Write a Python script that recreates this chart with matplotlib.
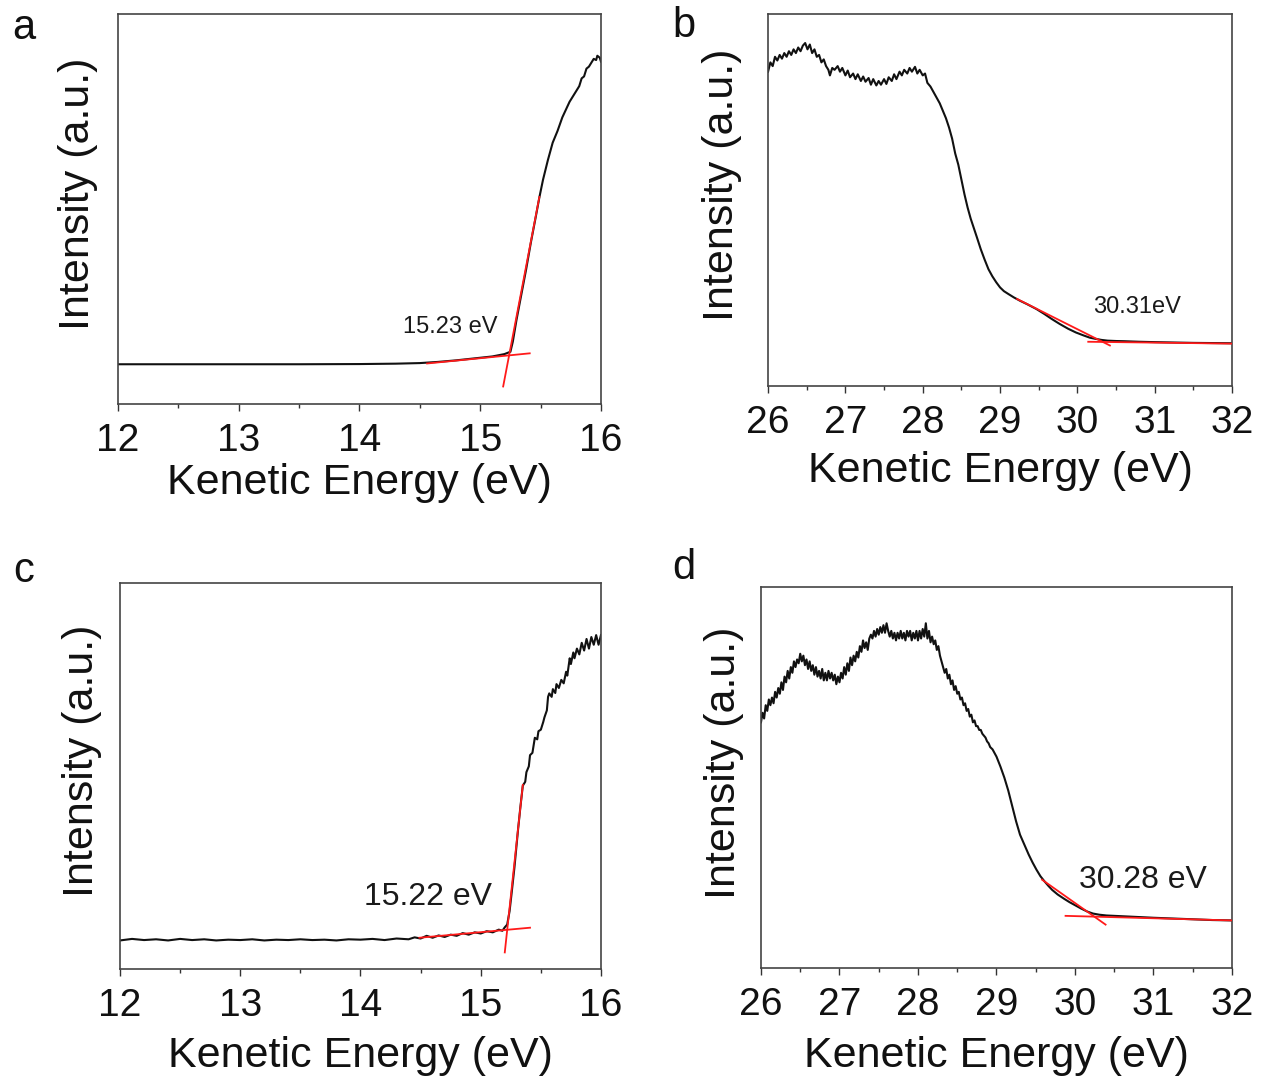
import matplotlib
matplotlib.use("Agg")
import matplotlib.pyplot as plt
from matplotlib.ticker import MultipleLocator

plt.rcParams["font.family"] = ["Liberation Sans", "DejaVu Sans"]

# ---- panel a: low-KE cutoff, sample 1 (intensity in % of axis height) ----
a_energy = [12.00, 12.50, 13.00, 13.50, 14.00, 14.30, 14.50, 14.65, 14.80, 14.95,
            15.10, 15.20, 15.25, 15.27, 15.30, 15.34, 15.38, 15.42, 15.46, 15.49,
            15.52, 15.56, 15.60, 15.64, 15.68, 15.71, 15.74, 15.77, 15.80, 15.82,
            15.84, 15.86, 15.88, 15.90, 15.92, 15.94, 15.96, 15.97, 15.99, 16.00]
a_int = [10.2, 10.2, 10.2, 10.2, 10.25, 10.35, 10.5, 10.8, 11.2, 11.7,
         12.2, 12.8, 13.4, 16.0, 21.5, 28.0, 34.5, 41.5, 48.0, 53.0,
         57.5, 62.5, 67.0, 70.0, 73.5, 75.5, 77.5, 79.0, 80.5, 81.5,
         83.5, 84.0, 86.0, 86.5, 87.5, 88.5, 88.2, 89.3, 88.8, 87.8]
a_fit_steep = ([15.19, 15.49], [4.5, 53.1])
a_fit_base = ([14.56, 15.41], [10.4, 13.0])
a_label = "15.23 eV"

# ---- panel b: secondary-electron edge, sample 1 ----
b_energy = [26.00, 26.03, 26.06, 26.09, 26.12, 26.15, 26.18, 26.21, 26.24, 26.27,
            26.30, 26.33, 26.36, 26.39, 26.42, 26.45, 26.48, 26.51, 26.54, 26.57,
            26.60, 26.63, 26.66, 26.69, 26.72, 26.75, 26.78, 26.80, 26.83, 26.86,
            26.90, 26.93, 26.96, 27.00, 27.03, 27.06, 27.10, 27.13, 27.16, 27.20,
            27.23, 27.26, 27.30, 27.33, 27.36, 27.40, 27.43, 27.46, 27.50, 27.53,
            27.56, 27.60, 27.63, 27.66, 27.70, 27.73, 27.76, 27.80, 27.83, 27.86,
            27.90, 27.93, 27.96, 28.00, 28.03, 28.06, 28.10, 28.14, 28.18, 28.22,
            28.26, 28.30, 28.34, 28.38, 28.42, 28.46, 28.50, 28.54, 28.58, 28.62,
            28.66, 28.70, 28.75, 28.80, 28.85, 28.90, 28.95, 29.00, 29.05, 29.11,
            29.18, 29.26, 29.35, 29.47, 29.57, 29.67, 29.77, 29.88, 29.98, 30.08,
            30.16, 30.23, 30.31, 30.39, 30.50, 30.60, 30.80, 31.00, 31.25, 31.50,
            31.75, 32.00]
b_int = [84.5, 87.0, 86.0, 88.5, 87.5, 89.0, 88.0, 89.5, 88.5, 90.0,
         89.0, 90.5, 89.5, 91.0, 90.0, 91.5, 92.2, 90.5, 91.8, 89.5,
         90.5, 88.5, 89.0, 87.0, 87.8, 86.0, 85.0, 83.5, 85.5, 85.0,
         86.0, 84.5, 85.5, 83.5, 84.8, 83.0, 84.0, 82.5, 83.8, 82.0,
         83.2, 81.8, 82.8, 81.0, 82.5, 80.8, 82.0, 81.0, 82.5, 81.2,
         83.0, 82.0, 83.8, 82.5, 84.5, 83.5, 85.0, 84.0, 85.5, 84.5,
         85.8, 84.0, 85.0, 83.5, 84.0, 81.5, 80.5, 79.0, 77.5, 76.0,
         74.0, 72.0, 69.5, 66.5, 62.5, 59.5, 55.5, 51.5, 48.0, 45.0,
         42.5, 40.0, 36.8, 34.0, 31.4, 29.5, 27.9, 26.5, 25.5, 24.7,
         23.8, 22.9, 22.0, 20.7, 19.4, 18.0, 16.7, 15.4, 14.4, 13.6,
         13.0, 12.7, 12.4, 12.2, 12.1, 12.05, 11.9, 11.8, 11.7, 11.6,
         11.55, 11.5]
b_fit_slope = ([29.22, 30.42], [23.4, 10.9])
b_fit_base = ([30.14, 32.00], [11.9, 11.4])
b_label = "30.31eV"

# ---- panel c: low-KE cutoff, sample 2 ----
c_energy = [12.00, 12.10, 12.20, 12.30, 12.40, 12.50, 12.60, 12.70, 12.80, 12.90,
            13.00, 13.10, 13.20, 13.30, 13.40, 13.50, 13.60, 13.70, 13.80, 13.90,
            14.00, 14.10, 14.20, 14.30, 14.40, 14.45, 14.50, 14.55, 14.60, 14.65,
            14.70, 14.75, 14.80, 14.85, 14.90, 14.95, 15.00, 15.05, 15.10, 15.15,
            15.18, 15.20, 15.22, 15.24, 15.26, 15.28, 15.31, 15.33, 15.35, 15.37,
            15.38, 15.40, 15.41, 15.43, 15.45, 15.47, 15.48, 15.50, 15.52, 15.53,
            15.55, 15.56, 15.57, 15.59, 15.60, 15.62, 15.63, 15.65, 15.67, 15.69,
            15.71, 15.72, 15.74, 15.75, 15.77, 15.78, 15.80, 15.82, 15.84, 15.86,
            15.88, 15.90, 15.92, 15.94, 15.96, 15.98, 16.00]
c_int = [7.4, 7.8, 7.5, 7.7, 7.4, 7.8, 7.5, 7.7, 7.4, 7.6,
         7.5, 7.7, 7.4, 7.6, 7.5, 7.7, 7.5, 7.6, 7.4, 7.7,
         7.6, 7.8, 7.5, 7.9, 7.7, 8.2, 7.9, 8.6, 8.1, 8.7,
         8.3, 8.9, 8.6, 9.3, 8.9, 9.5, 9.2, 9.8, 9.5, 10.2,
         9.9, 10.8, 11.5, 15.0, 20.5, 26.2, 36.0, 42.0, 47.5, 48.5,
         51.0, 52.5, 55.4, 56.0, 59.9, 59.5, 61.6, 62.0, 64.0, 65.2,
         67.0, 70.5, 71.4, 70.5, 72.5, 71.5, 73.8, 72.8, 74.9, 74.0,
         77.0, 76.0, 80.5, 79.0, 82.0, 80.5, 83.0, 81.5, 84.5, 82.5,
         85.5, 83.0, 86.0, 84.0, 86.5, 84.0, 86.5]
c_fit_steep = ([15.20, 15.35], [4.3, 47.7])
c_fit_base = ([14.49, 15.41], [8.1, 10.7])
c_label = "15.22 eV"

# ---- panel d: secondary-electron edge, sample 2 ----
d_energy = [26.00, 26.02, 26.04, 26.06, 26.08, 26.10, 26.12, 26.14, 26.16, 26.18,
            26.20, 26.22, 26.24, 26.26, 26.28, 26.30, 26.32, 26.34, 26.36, 26.38,
            26.40, 26.42, 26.44, 26.46, 26.48, 26.50, 26.52, 26.54, 26.56, 26.58,
            26.60, 26.62, 26.64, 26.66, 26.68, 26.70, 26.72, 26.74, 26.76, 26.78,
            26.80, 26.82, 26.84, 26.86, 26.88, 26.90, 26.92, 26.94, 26.96, 26.98,
            27.00, 27.02, 27.04, 27.06, 27.08, 27.10, 27.12, 27.14, 27.16, 27.18,
            27.20, 27.22, 27.24, 27.26, 27.28, 27.30, 27.32, 27.34, 27.36, 27.38,
            27.40, 27.42, 27.44, 27.46, 27.48, 27.50, 27.52, 27.54, 27.56, 27.58,
            27.60, 27.62, 27.64, 27.66, 27.68, 27.70, 27.72, 27.74, 27.76, 27.78,
            27.80, 27.82, 27.84, 27.86, 27.88, 27.90, 27.92, 27.94, 27.96, 27.98,
            28.00, 28.02, 28.04, 28.06, 28.08, 28.10, 28.12, 28.14, 28.16, 28.18,
            28.20, 28.22, 28.24, 28.26, 28.28, 28.30, 28.32, 28.34, 28.36, 28.38,
            28.40, 28.42, 28.44, 28.46, 28.48, 28.50, 28.52, 28.54, 28.56, 28.58,
            28.60, 28.62, 28.64, 28.66, 28.68, 28.70, 28.72, 28.74, 28.76, 28.78,
            28.80, 28.82, 28.84, 28.86, 28.88, 28.90, 28.92, 28.95, 29.00, 29.05,
            29.10, 29.15, 29.20, 29.25, 29.30, 29.36, 29.41, 29.46, 29.51, 29.56,
            29.61, 29.66, 29.71, 29.78, 29.86, 29.93, 30.01, 30.08, 30.16, 30.23,
            30.31, 30.40, 30.51, 30.70, 31.00, 31.25, 31.50, 31.75, 32.00]
d_int = [64.5, 67.0, 65.5, 69.0, 67.5, 70.5, 69.0, 71.0, 69.5, 72.5,
         71.0, 73.5, 72.0, 75.0, 73.0, 76.5, 75.0, 78.0, 76.0, 79.0,
         77.5, 80.5, 79.0, 81.0, 80.0, 82.5, 80.5, 82.0, 79.5, 81.0,
         78.5, 80.5, 78.0, 79.5, 77.0, 79.0, 76.5, 78.0, 76.0, 78.5,
         75.5, 77.5, 75.5, 78.0, 76.0, 77.5, 75.5, 77.0, 74.5, 76.5,
         75.0, 77.5, 76.0, 79.0, 77.0, 80.0, 78.0, 81.5, 79.5, 82.0,
         80.5, 83.0, 81.5, 84.5, 83.0, 86.0, 84.0, 85.5, 83.5, 86.5,
         87.5, 86.5, 88.5, 87.0, 89.0, 87.5, 89.5, 88.0, 90.0, 88.0,
         90.5, 88.5, 87.0, 88.5, 86.5, 88.0, 86.0, 88.0, 86.5, 88.5,
         86.5, 88.0, 86.0, 88.5, 87.0, 88.5, 86.0, 88.0, 86.5, 88.5,
         86.0, 88.5, 86.5, 89.0, 87.0, 90.5, 86.5, 88.5, 85.5, 87.0,
         85.0, 86.0, 83.5, 84.5, 82.0, 80.5, 79.0, 77.5, 78.5, 76.0,
         77.0, 74.5, 75.5, 73.0, 74.0, 72.0, 72.5, 70.5, 71.0, 69.0,
         69.5, 67.5, 68.0, 66.0, 66.5, 64.5, 65.0, 63.5, 63.5, 62.5,
         62.5, 61.5, 61.0, 60.5, 59.5, 59.0, 58.0, 57.4, 55.5, 52.9,
         50.0, 46.6, 42.5, 38.5, 35.0, 32.2, 29.8, 27.7, 25.8, 24.1,
         22.8, 21.6, 20.5, 19.3, 18.2, 17.3, 16.4, 15.6, 14.8, 14.3,
         14.0, 13.8, 13.7, 13.5, 13.2, 13.0, 12.8, 12.6, 12.5]
d_fit_slope = ([29.58, 30.39], [23.2, 11.4])
d_fit_base = ([29.88, 32.00], [13.7, 12.5])
d_label = "30.28 eV"

xlabel = "Kenetic Energy (eV)"
ylabel = "Intensity (a.u.)"

fig = plt.figure(figsize=(12.62, 10.78), dpi=100)

panels = [
    # letter, rect, xlim, data, fits, label, label pos, label size, ylabel x, xlabel y
    ("a", [0.0935, 0.6252, 0.3827, 0.3618], (12, 16), a_energy, a_int,
     [a_fit_steep, a_fit_base], a_label, (14.75, 19.8), 17, -0.083, -0.203),
    ("b", [0.6086, 0.6419, 0.3677, 0.3451], (26, 32), b_energy, b_int,
     [b_fit_slope, b_fit_base], b_label, (30.77, 21.3), 17, -0.100, -0.228),
    ("c", [0.0951, 0.1011, 0.3811, 0.3581], (12, 16), c_energy, c_int,
     [c_fit_steep, c_fit_base], c_label, (14.56, 18.7), 23, -0.079, -0.226),
    ("d", [0.6030, 0.1020, 0.3732, 0.3534], (26, 32), d_energy, d_int,
     [d_fit_slope, d_fit_base], d_label, (30.87, 23.1), 23, -0.079, -0.232),
]
letter_pos = {"a": (24, 28), "b": (684, 26), "c": (24, 571), "d": (684, 568)}

for (letter, rect, xlim, ex, iy, fits, lab, lpos, lsize,
     ylx, xly) in panels:
    ax = fig.add_axes(rect)
    ax.plot(ex, iy, color="#111111", lw=1.5, zorder=2)
    for fx, fy in fits:
        ax.plot(fx, fy, color="#ff1a1a", lw=1.3, zorder=3)
    ax.text(lpos[0], lpos[1], lab, ha="center", va="center",
            fontsize=lsize, color="#1a1a1a")
    ax.set_xlim(*xlim)
    ax.set_ylim(0, 100)
    ax.xaxis.set_major_locator(MultipleLocator(1))
    ax.xaxis.set_minor_locator(MultipleLocator(0.5))
    ax.set_yticks([])
    ax.tick_params(axis="x", which="major", direction="out", length=5,
                   width=1.0, labelsize=28, pad=8.5, colors="#333333",
                   labelcolor="#111111")
    ax.tick_params(axis="x", which="minor", direction="out", length=3,
                   width=1.0, colors="#333333")
    for sp in ax.spines.values():
        sp.set_color("#444444")
        sp.set_linewidth(1.2)
    ax.set_xlabel(xlabel, fontsize=31, color="#111111")
    ax.xaxis.label.set_va("center")
    ax.xaxis.set_label_coords(0.5, xly)
    ax.set_ylabel(ylabel, fontsize=31, color="#111111")
    ax.yaxis.label.set_va("center")
    ax.yaxis.set_label_coords(ylx, 0.54)
    px, py = letter_pos[letter]
    fig.text(px / 1262, 1 - py / 1078, letter, ha="center", va="center",
             fontsize=30, color="#111111")

fig.savefig("out.png", dpi=100)
